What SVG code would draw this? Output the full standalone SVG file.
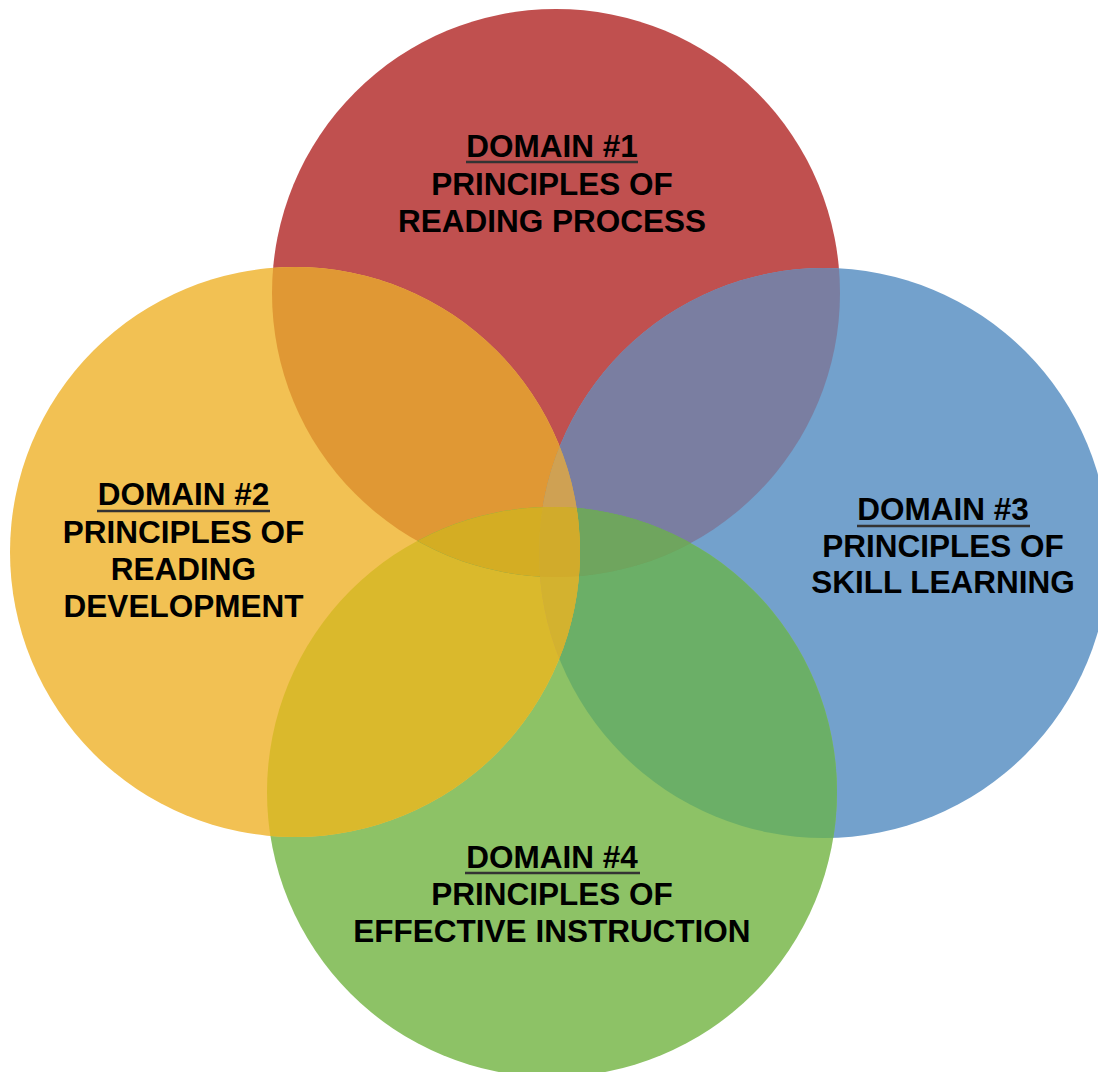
<svg xmlns="http://www.w3.org/2000/svg" width="1098" height="1072" viewBox="0 0 1098 1072">
<style>
.lbl{font-family:"Liberation Sans",Arial,sans-serif;font-weight:bold;font-size:31.5px;fill:#000;text-anchor:middle}
.ul{stroke:#333;stroke-width:2.4}
</style>
<defs>
<clipPath id="cR"><circle cx="556" cy="293" r="284"/></clipPath>
<clipPath id="cY"><circle cx="295" cy="552" r="285"/></clipPath>
<clipPath id="cB"><circle cx="824" cy="553" r="285"/></clipPath>
<clipPath id="cG"><circle cx="552" cy="792" r="285"/></clipPath>
</defs>
<rect width="1098" height="1072" fill="#fff"/>
<g id="domain1">
<circle cx="556" cy="293" r="284" fill="#C0504F"/>
<text class="lbl" x="552" y="157">DOMAIN #1</text>
<line class="ul" x1="466" y1="162" x2="638" y2="162"/>
<text class="lbl" x="552" y="195">PRINCIPLES OF</text>
<text class="lbl" x="552" y="232">READING PROCESS</text>
</g>
<g id="domain3">
<circle cx="824" cy="553" r="285" fill="#73A1CC"/>
<text class="lbl" x="943" y="520">DOMAIN #3</text>
<line class="ul" x1="857" y1="526" x2="1030" y2="526"/>
<text class="lbl" x="943" y="557">PRINCIPLES OF</text>
<text class="lbl" x="943" y="593">SKILL LEARNING</text>
</g>
<g id="domain4">
<circle cx="552" cy="792" r="285" fill="#8DC266"/>
<text class="lbl" x="552" y="868">DOMAIN #4</text>
<line class="ul" x1="465" y1="873" x2="640" y2="873"/>
<text class="lbl" x="552" y="905">PRINCIPLES OF</text>
<text class="lbl" x="552" y="942">EFFECTIVE INSTRUCTION</text>
</g>
<g id="domain2">
<circle cx="295" cy="552" r="285" fill="#F2C153"/>
<text class="lbl" x="183.5" y="505">DOMAIN #2</text>
<line class="ul" x1="97" y1="511" x2="270" y2="511"/>
<text class="lbl" x="183.5" y="543">PRINCIPLES OF</text>
<text class="lbl" x="183.5" y="580">READING</text>
<text class="lbl" x="183.5" y="617">DEVELOPMENT</text>
</g>
<g id="overlaps">
<g clip-path="url(#cR)"><circle cx="295" cy="552" r="285" fill="#E09834"/></g>
<g clip-path="url(#cR)"><circle cx="824" cy="553" r="285" fill="#7A7EA1"/></g>
<g clip-path="url(#cB)"><circle cx="552" cy="792" r="285" fill="#6BAF67"/></g>
<g clip-path="url(#cY)"><circle cx="552" cy="792" r="285" fill="#DAB92C"/></g>
<g clip-path="url(#cY)"><circle cx="824" cy="553" r="285" fill="#D2A84A"/></g>
<g clip-path="url(#cR)"><circle cx="552" cy="792" r="285" fill="#6FA55E"/></g>
<g clip-path="url(#cR)"><g clip-path="url(#cY)"><circle cx="824" cy="553" r="285" fill="#CFA153"/></g></g>
<g clip-path="url(#cR)"><g clip-path="url(#cB)"><circle cx="552" cy="792" r="285" fill="#6FA55E"/></g></g>
<g clip-path="url(#cR)"><g clip-path="url(#cY)"><circle cx="552" cy="792" r="285" fill="#D4AD23"/></g></g>
<g clip-path="url(#cY)"><g clip-path="url(#cB)"><circle cx="552" cy="792" r="285" fill="#D3B22F"/></g></g>
<g clip-path="url(#cR)"><g clip-path="url(#cY)"><g clip-path="url(#cB)"><circle cx="552" cy="792" r="285" fill="#D1AB2B"/></g></g></g>
</g>
</svg>
